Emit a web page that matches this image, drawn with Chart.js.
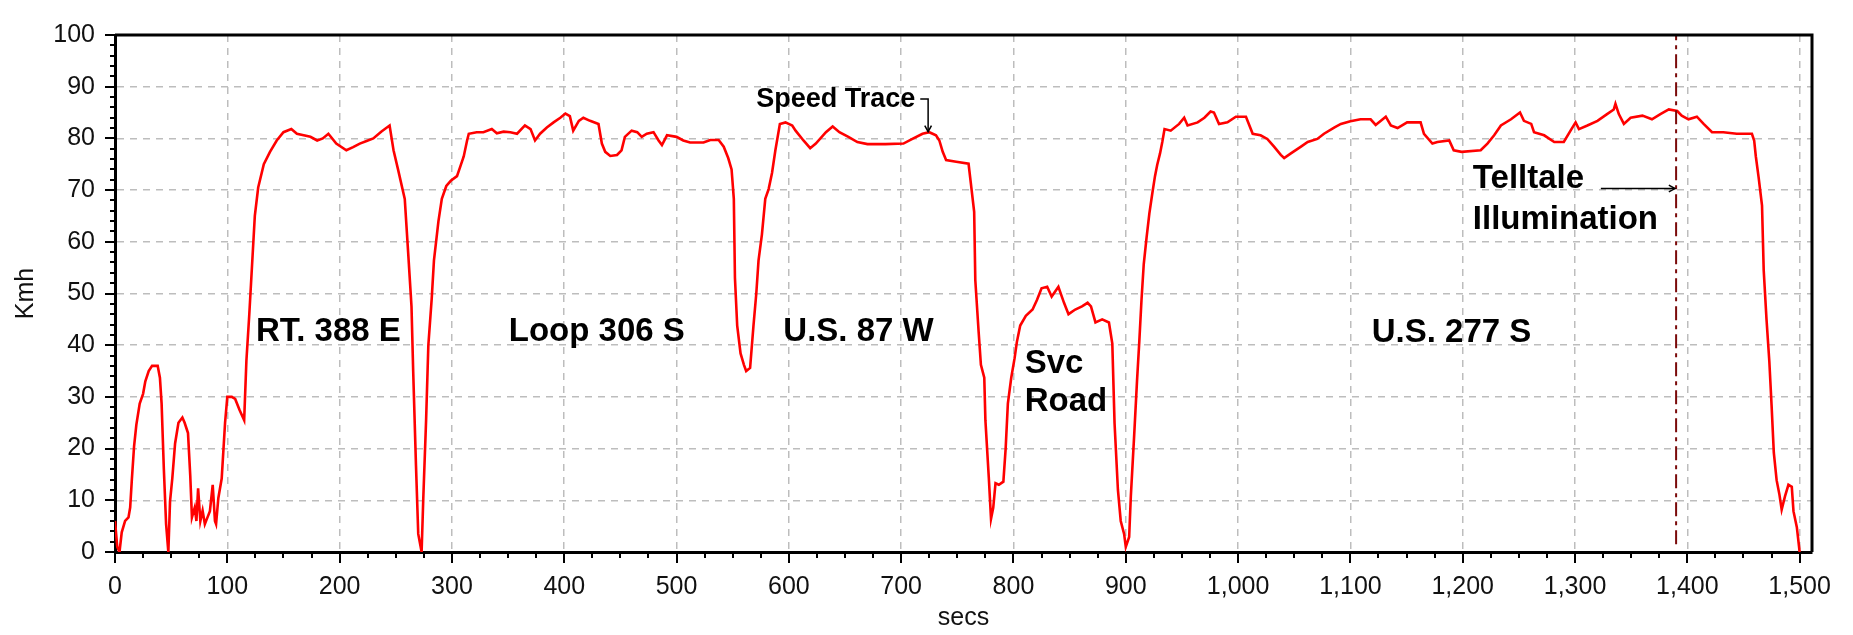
<!DOCTYPE html>
<html>
<head>
<meta charset="utf-8">
<title>Speed Trace</title>
<script src="https://cdn.jsdelivr.net/npm/chart.js@4.4.1/dist/chart.umd.min.js"></script>
<style>
  html, body { margin: 0; padding: 0; background: #fff; }
  #wrap { width: 1853px; height: 635px; }
</style>
</head>
<body>
<div id="wrap"><canvas id="speedChart" width="1853" height="635"></canvas></div>
<script>
// ------------------------------------------------------------
// Drive log: vehicle speed (Kmh) against elapsed time (secs)
// ------------------------------------------------------------

const secs = [
  0, 2, 4, 6, 9, 12, 13.5, 15, 17, 19, 22, 25, 27, 30, 33, 38, 40, 41.5, 43.5, 45.5,
  47.5, 49, 51, 53.5, 56.5, 60, 62, 65, 67, 68.5, 71, 72.5, 74, 76, 78, 80, 82, 84.5, 87, 89,
  90, 92, 95, 98, 100, 104, 107, 111, 115, 117, 119.5, 122.5, 124.5, 127.5, 132.5, 138, 144, 150, 157, 162,
  168, 174, 180, 185, 190, 197, 206, 212, 218, 224, 230, 237, 244.5, 248, 252, 258, 261, 264, 265.5, 268,
  270, 273, 274.5, 277, 279, 282, 284, 288, 291, 295, 299,
  304.5, 307.5, 310.5, 313.5, 315, 322, 328, 335.5, 340, 346, 352, 358, 365, 370, 374, 378.5, 384.5, 390.5, 396.5, 401,
  405, 408, 413, 417, 423, 430.5, 433.5, 436.5, 441, 447, 451, 454, 460, 465, 469, 473.5, 479.5, 484, 487, 491.5,
  500, 506, 512, 524, 530, 537.5, 542, 546, 549, 551, 552, 554, 557, 560, 562, 565.5, 568.5, 571, 573, 576,
  579, 582, 585, 588, 592, 597,
  603, 606, 613, 619, 624, 633, 639, 645, 653, 661, 670, 686, 702, 710, 719, 725, 731, 734, 737, 740,
  749, 760, 762, 765, 766, 769, 771, 774, 775, 778, 780, 782, 784, 787, 791, 793, 795, 798, 801, 803,
  806, 811, 817, 821, 825, 830, 834, 840, 845, 849, 855, 861, 866, 869, 873, 879, 885, 888, 890, 893,
  895.5, 898.5, 900, 903, 904.5, 907.5, 910, 912, 914, 916, 918.5, 921, 923.5, 926, 928, 930.5, 932.5, 934.5,
  940, 947.5, 952, 955, 964, 970, 975.5, 978.5, 983, 990.5, 998, 1007, 1013, 1020, 1026, 1032, 1038, 1041, 1047, 1056,
  1062, 1070.5, 1076.5, 1085.5, 1091.5, 1100, 1109, 1118, 1122.5, 1131.5, 1136, 1142, 1150.5, 1162.5, 1165.5, 1173, 1177.5, 1188, 1192, 1199,
  1216, 1222, 1228, 1234, 1243, 1251, 1254.5, 1261, 1263.5, 1272.5, 1281.5, 1290, 1296, 1300.5, 1303.5, 1311, 1320, 1328.5, 1334.5, 1336,
  1339, 1343.5, 1349.5, 1360, 1368.5, 1376, 1383.5, 1391, 1395, 1401, 1408.5, 1414.5, 1422, 1432, 1444, 1457.5, 1459.5, 1461, 1463.5, 1466.5,
  1468, 1470.5, 1473, 1475, 1477, 1479.5, 1482, 1484, 1487, 1490, 1493, 1494.5, 1497.5, 1500
];

const kmh = [
  6, 1, 0, 3.8, 6, 6.7, 8.6, 14, 20.5, 24.6, 28.7, 30.6, 33, 35, 36, 36, 33.7, 28.7, 16, 5.4,
  0, 9.8, 14.2, 21, 25, 26, 25, 23, 14.8, 6.7, 8.6, 6, 12.3, 6, 8, 5.4, 6.5, 7.9, 13, 6,
  5.4, 10.4, 14.2, 25, 30, 30, 29.6, 27.4, 25.5, 37, 45.7, 57.3, 65, 70.5, 75, 77.4, 79.6, 81.2, 81.8, 80.9,
  80.6, 80.3, 79.6, 80, 80.9, 79, 77.7, 78.3, 79, 79.5, 80, 81.3, 82.5, 77.7, 74, 68.3, 58, 47.5, 35, 16.7,
  3.5, 0, 10.4, 25.5, 40, 49, 56.4, 64, 68.3, 70.8, 71.8,
  72.7, 74.6, 76.5, 79.6, 80.9, 81.2, 81.2, 81.8, 81, 81.3, 81.2, 80.9, 82.5, 81.8, 79.6, 80.9, 82.1, 83.1, 84, 84.8,
  84.3, 81.5, 83.4, 84, 83.4, 82.8, 79, 77.4, 76.6, 76.8, 77.7, 80.3, 81.5, 81.2, 80.3, 80.9, 81.2, 79.6, 78.7, 80.6,
  80.3, 79.6, 79.2, 79.2, 79.7, 79.7, 78.4, 76.2, 74, 68.3, 53, 43.8, 38.4, 36.2, 35, 35.6, 43.8, 50, 56.4, 61.4,
  68.3, 70.2, 73.3, 77.7, 82.8, 83.1,
  82.5, 81.5, 79.6, 78.1, 79, 81.2, 82.3, 81.2, 80.3, 79.3, 78.9, 78.9, 79, 79.9, 80.9, 81.2, 80.6, 79.6, 77.4, 75.8,
  75.5, 75.1, 71.4, 65.8, 52.6, 42.5, 36.2, 33.7, 25.5, 14.5, 6.4, 8.6, 13.3, 13, 13.6, 19.9, 28.7, 33.7, 37.5, 40.6,
  43.8, 45.7, 46.9, 48.8, 51, 51.3, 49.4, 51.3, 48.2, 46, 46.9, 47.5, 48.2, 47.5, 44.4, 45, 44.4, 40.3, 24.9, 12,
  6, 3.5, 1, 2.9, 10.8, 22.7, 33.1, 40.6, 48.8, 55.7, 60.8, 65.5, 69.2, 72.7, 74.9, 77.1, 79.3, 81.8,
  81.5, 82.8, 84, 82.5, 83.1, 84, 85.2, 85, 82.8, 83.1, 84.2, 84.2, 80.9, 80.6, 79.9, 78.4, 76.8, 76.2, 77.1, 78.4,
  79.3, 79.9, 80.9, 82.1, 82.8, 83.3, 83.7, 83.7, 82.6, 84.2, 82.5, 82, 83.1, 83.1, 80.9, 79, 79.3, 79.6, 77.7, 77.4,
  77.7, 79, 80.6, 82.5, 83.7, 85, 83.4, 82.8, 81.2, 80.6, 79.3, 79.3, 81.5, 83.1, 81.8, 82.5, 83.4, 84.7, 85.6, 86.7,
  84.7, 82.8, 84, 84.4, 83.7, 84.7, 85.6, 85.3, 84.4, 83.7, 84.2, 82.8, 81.2, 81.2, 80.9, 80.9, 79.6, 76.5, 72.4, 67,
  54.5, 45, 36.9, 28.4, 19.2, 13.9, 11.1, 8.2, 10.8, 13, 12.6, 7.9, 4.8, 0
];

// moment the telltale lit up
const telltaleSec = 1390;

// axis ranges and tick spacing
const xRange = [0, 1511];
const yRange = [0, 100];
const xMajor = 100, xMinor = 25;
const yMajor = 10, yMinor = 2;

// road names, placed in data units (secs, Kmh)
const roadLabels = [
  { text: 'RT. 388 E',  x: 190,  y: 42.6, align: 'center' },
  { text: 'Loop 306 S', x: 429,  y: 42.6, align: 'center' },
  { text: 'U.S. 87 W',  x: 662,  y: 42.6, align: 'center' },
  { text: 'Svc',        x: 810,  y: 36.4, align: 'left' },
  { text: 'Road',       x: 810,  y: 29.0, align: 'left' },
  { text: 'U.S. 277 S', x: 1190, y: 42.4, align: 'center' },
  { text: 'Telltale',   x: 1209, y: 72.2, align: 'left' },
  { text: 'Illumination', x: 1209, y: 64.3, align: 'left' }
];

const FONT = "'Liberation Sans', Arial, sans-serif";

// ------------------------------------------------------------
// Extra drawing: plot frame, tick marks, notes and arrows
// ------------------------------------------------------------

function drawArrow(ctx, pts) {
  ctx.beginPath();
  ctx.moveTo(pts[0][0], pts[0][1]);
  for (let i = 1; i < pts.length; i++) ctx.lineTo(pts[i][0], pts[i][1]);
  ctx.stroke();
  const [x1, y1] = pts[pts.length - 2];
  const [x2, y2] = pts[pts.length - 1];
  const ang = Math.atan2(y2 - y1, x2 - x1);
  const head = 7;
  ctx.beginPath();
  ctx.moveTo(x2 - head * Math.cos(ang - 0.5), y2 - head * Math.sin(ang - 0.5));
  ctx.lineTo(x2, y2);
  ctx.lineTo(x2 - head * Math.cos(ang + 0.5), y2 - head * Math.sin(ang + 0.5));
  ctx.stroke();
}

const extras = {
  id: 'extras',
  afterDraw(chart) {
    const { ctx, chartArea: a } = chart;
    const x = chart.scales.x, y = chart.scales.y;
    ctx.save();

    // top and right edges of the frame
    ctx.strokeStyle = '#000';
    ctx.lineWidth = 3;
    ctx.beginPath();
    ctx.moveTo(a.left, a.top);
    ctx.lineTo(a.right, a.top);
    ctx.lineTo(a.right, a.bottom);
    ctx.stroke();

    // major / minor tick marks
    ctx.lineWidth = 2;
    for (let v = yRange[0]; v <= yRange[1]; v += yMinor) {
      const py = Math.round(y.getPixelForValue(v));
      const len = v % yMajor === 0 ? 10 : 5;
      ctx.beginPath();
      ctx.moveTo(a.left - len, py);
      ctx.lineTo(a.left, py);
      ctx.stroke();
    }
    for (let s = 0; s <= 1500; s += xMinor) {
      const px = Math.round(x.getPixelForValue(s));
      const len = s % xMajor === 0 ? 11 : 6;
      ctx.beginPath();
      ctx.moveTo(px, a.bottom);
      ctx.lineTo(px, a.bottom + len);
      ctx.stroke();
    }

    // road names
    ctx.fillStyle = '#000';
    ctx.textBaseline = 'middle';
    ctx.font = 'bold 33px ' + FONT;
    roadLabels.forEach(l => {
      ctx.textAlign = l.align;
      ctx.fillText(l.text, x.getPixelForValue(l.x), y.getPixelForValue(l.y));
    });

    // "Speed Trace" callout
    ctx.font = 'bold 27px ' + FONT;
    ctx.textAlign = 'left';
    ctx.fillText('Speed Trace', x.getPixelForValue(571), y.getPixelForValue(87.6));
    ctx.lineWidth = 1.5;
    ctx.strokeStyle = '#000';
    drawArrow(ctx, [
      [x.getPixelForValue(717), y.getPixelForValue(87.6)],
      [x.getPixelForValue(724), y.getPixelForValue(87.6)],
      [x.getPixelForValue(724), y.getPixelForValue(81.3)]
    ]);

    // telltale arrow
    drawArrow(ctx, [
      [x.getPixelForValue(1323), y.getPixelForValue(70.3)],
      [x.getPixelForValue(telltaleSec - 1), y.getPixelForValue(70.3)]
    ]);

    ctx.restore();
  }
};

// ------------------------------------------------------------
// Chart
// ------------------------------------------------------------

const tracePoints = secs.map((s, i) => ({ x: s, y: kmh[i] }));
const telltalePoints = [{ x: telltaleSec, y: yRange[0] + 1.5 }, { x: telltaleSec, y: yRange[1] }];

new Chart(document.getElementById('speedChart'), {
  type: 'line',
  data: {
    datasets: [
      {
        label: 'Speed',
        data: tracePoints,
        borderColor: '#ff0000',
        borderWidth: 2.6,
        pointRadius: 0,
        tension: 0,
        order: 1
      },
      {
        label: 'Telltale',
        data: telltalePoints,
        borderColor: '#7a0a0a',
        borderWidth: 2,
        borderDash: [14, 5, 4, 5],
        pointRadius: 0,
        order: 0
      }
    ]
  },
  options: {
    responsive: false,
    animation: false,
    events: [],
    layout: { padding: { top: 22, right: 41, left: 0, bottom: 0 } },
    plugins: {
      legend: { display: false },
      tooltip: { enabled: false }
    },
    scales: {
      x: {
        type: 'linear',
        min: xRange[0],
        max: xRange[1],
        afterFit: s => { s.height = 83; },
        ticks: {
          stepSize: xMajor,
          includeBounds: false,
          maxRotation: 0,
          autoSkip: false,
          padding: 20,
          color: '#111',
          font: { family: FONT, size: 25 },
          callback: v => v.toLocaleString('en-US')
        },
        grid: { color: '#bdbdbd', lineWidth: 1.5, drawTicks: false },
        border: { color: '#000', width: 3, dash: [7, 6] },
        title: {
          display: true,
          text: 'secs',
          color: '#111',
          font: { family: FONT, size: 25 },
          padding: { top: 0, bottom: 2 }
        }
      },
      y: {
        min: yRange[0],
        max: yRange[1],
        afterFit: s => { s.width = 115; },
        ticks: {
          stepSize: yMajor,
          padding: 20,
          color: '#111',
          font: { family: FONT, size: 25 }
        },
        grid: { color: '#bdbdbd', lineWidth: 1.5, drawTicks: false },
        border: { color: '#000', width: 3, dash: [7, 6] },
        title: {
          display: true,
          text: 'Kmh',
          color: '#111',
          font: { family: FONT, size: 25 },
          padding: { top: 11, bottom: 0 }
        }
      }
    }
  },
  plugins: [extras]
});
</script>
</body>
</html>
